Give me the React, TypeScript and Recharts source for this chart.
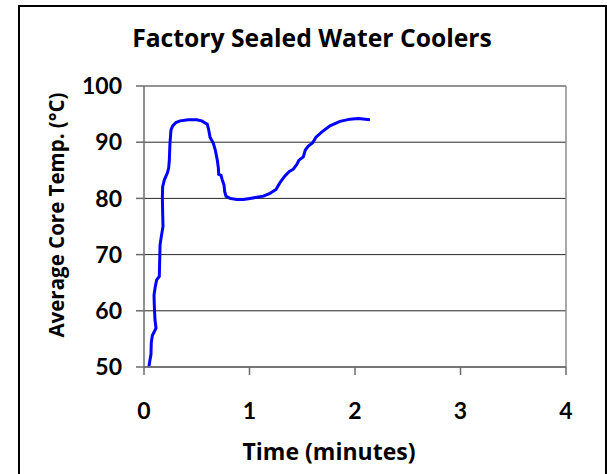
import { LineChart, Line, XAxis, YAxis, CartesianGrid, ReferenceLine } from 'recharts';

// time in minutes, temperature in deg C
const timeMin = [
  0.047, 0.057, 0.066, 0.069, 0.079, 0.114, 0.104, 0.098, 0.095, 0.107, 0.12, 0.145, 0.149, 0.152, 0.164, 0.18,
  0.177, 0.174, 0.177, 0.193, 0.221, 0.234, 0.24, 0.246, 0.256, 0.272, 0.303, 0.341, 0.42, 0.499, 0.547, 0.6,
  0.613, 0.626, 0.657, 0.676, 0.695, 0.705, 0.708, 0.73, 0.742, 0.758, 0.765, 0.777, 0.815, 0.878, 0.942, 1.005,
  1.068, 1.131, 1.194, 1.21, 1.251, 1.289, 1.336, 1.378, 1.415, 1.447, 1.469, 1.51, 1.529, 1.558, 1.599, 1.63,
  1.684, 1.763, 1.858, 1.953, 2.032, 2.142,
];
const coreTemp = [
  50.1, 51.3, 52.2, 54.3, 55.6, 56.9, 58.4, 60.8, 62.8, 64.3, 65.5, 66.1, 69.1, 71.7, 73.2, 75.0,
  77.4, 80.3, 82.1, 83.3, 84.5, 85.4, 86.8, 89.8, 92.2, 92.9, 93.5, 93.8, 94.0, 94.0, 93.8, 93.2,
  92.2, 90.9, 89.8, 88.6, 86.8, 85.4, 84.3, 84.1, 83.3, 82.4, 81.2, 80.4, 80.0, 79.8, 79.8, 80.0,
  80.2, 80.4, 80.9, 81.1, 81.6, 82.8, 84.0, 84.8, 85.2, 86.0, 86.8, 87.4, 88.6, 89.3, 89.9, 90.9,
  91.8, 92.9, 93.7, 94.1, 94.2, 94.0,
];
const xTicks = [0, 1, 2, 3, 4];
const yTicks = [50, 60, 70, 80, 90, 100];

const data = timeMin.map((t, i) => ({ t, temp: coreTemp[i] }));

const TICK_FONT = 'Lato, "Open Sans", sans-serif';
const TITLE_FONT = '"Open Sans", Lato, sans-serif';
const tickStyle = { fontFamily: TICK_FONT, fontWeight: 700, fontSize: 23, fill: '#000' };

export default function App() {
  return (
    <div style={{ position: 'absolute', left: 0, top: 0, width: 607, height: 474, overflow: 'hidden', background: '#fff' }}>
      {/* outer frame, bottom edge runs off the picture */}
      <div
        style={{
          position: 'absolute', left: 18, top: 5, width: 589, height: 480,
          borderLeft: '2px solid #000', borderTop: '2px solid #000', borderRight: '2px solid #000',
          boxSizing: 'border-box',
        }}
      />
      <LineChart width={607} height={474} data={data} margin={{ top: 86, right: 41, bottom: 0, left: 0 }}>
        <CartesianGrid horizontal vertical={false} stroke="#000" strokeOpacity={0.85} />
        <ReferenceLine x={4} stroke="#8c8c8c" strokeWidth={1.5} />
        <XAxis
          dataKey="t"
          type="number"
          domain={[0, 4]}
          ticks={xTicks}
          height={107}
          tickSize={8}
          tickMargin={28}
          stroke="#6b6b6b"
          strokeWidth={1.5}
          tick={tickStyle}
        />
        <YAxis
          type="number"
          domain={[50, 100]}
          ticks={yTicks}
          width={144}
          tickSize={8}
          tickMargin={14}
          stroke="#6b6b6b"
          strokeWidth={1.5}
          tick={tickStyle}
        />
        <Line type="linear" dataKey="temp" stroke="#0000ff" strokeWidth={3} dot={false} isAnimationActive={false} />
      </LineChart>
      <svg width={607} height={474} style={{ position: 'absolute', left: 0, top: 0, pointerEvents: 'none' }}>
        <g fontFamily={TITLE_FONT} fontWeight={700} fill="#000">
          <text x={312} y={47} fontSize={24.7} textAnchor="middle">Factory Sealed Water Coolers</text>
          <text x={329} y={460} fontSize={23} textAnchor="middle">Time (minutes)</text>
          <text x={64} y={215} fontSize={20.5} textAnchor="middle" transform="rotate(-90, 64, 215)">
            Average Core Temp. (°C)
          </text>
        </g>
      </svg>
    </div>
  );
}
